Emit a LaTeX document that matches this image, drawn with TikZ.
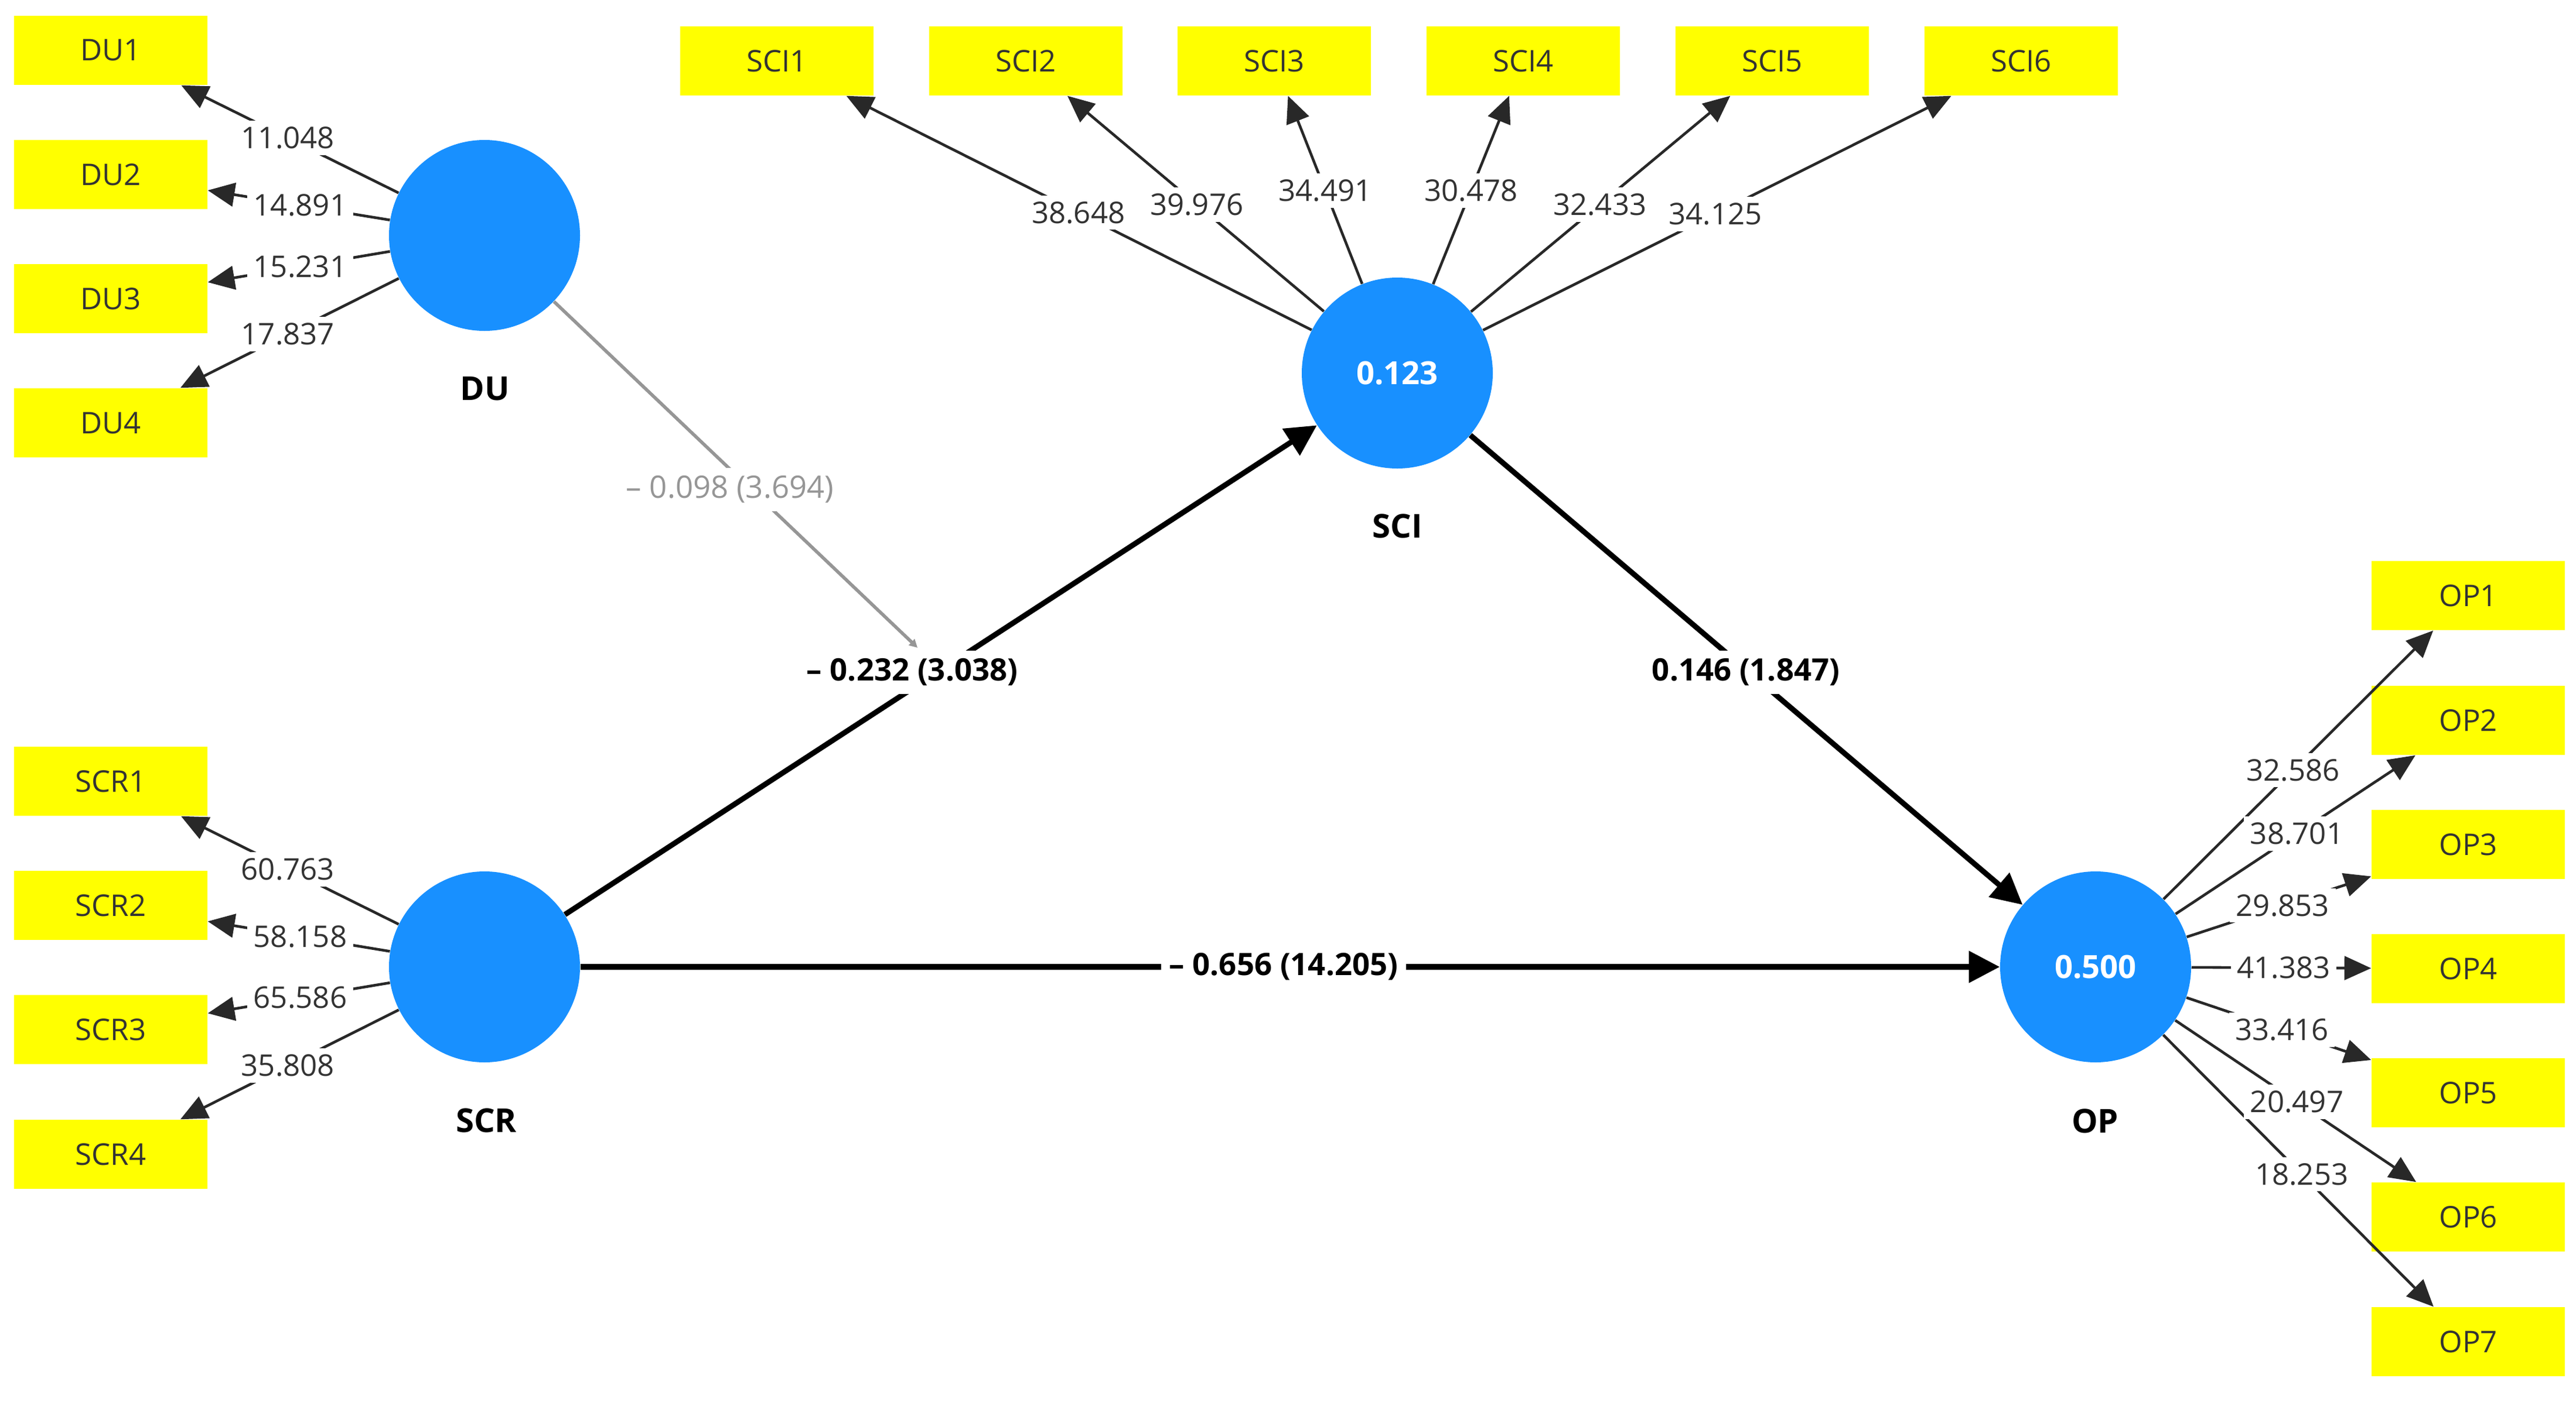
\documentclass[tikz,border=0pt]{standalone}
\usepackage{fontspec}
\setmainfont{Open Sans}
\usetikzlibrary{arrows.meta,calc}
\definecolor{plsblue}{RGB}{24,144,255}
\definecolor{plsyellow}{RGB}{255,255,0}
\definecolor{loadline}{RGB}{40,40,40}
\definecolor{modgray}{RGB}{150,150,150}
\begin{document}
\begin{tikzpicture}[
  indic/.style={rectangle, fill=plsyellow, minimum width=3.3cm, minimum height=1.18cm, inner sep=0pt, text=black!80, font=\fontsize{14.5}{16}\selectfont},
  latent/.style={circle, fill=plsblue, minimum size=3.26cm, inner sep=0pt, text=white, font=\fontsize{15.5}{18}\selectfont\bfseries},
  lvname/.style={font=\fontsize{16}{18}\selectfont\bfseries, text=black},
  loading/.style={draw=loadline, line width=1.3pt, -{Triangle[length=13pt,width=11.5pt]}},
  pathcoef/.style={draw=black, line width=2.6pt, -{Triangle[length=15pt,width=15pt]}},
  lval/.style={fill=white, inner sep=3pt, text=black!80, font=\fontsize{14.5}{16}\selectfont},
  pval/.style={fill=white, inner sep=4pt, text=black, font=\fontsize{15}{18}\selectfont\bfseries},
  modline/.style={draw=modgray, line width=1.6pt, -{Triangle[length=4pt,width=4pt]}},
  modval/.style={fill=white, inner sep=4pt, text=modgray, font=\fontsize{15}{18}\selectfont}
]
\useasboundingbox (0,0) rectangle (43.97,-23.93);

% latent variables
\node[latent] (DU)  at (8.27,-4.02) {};
\node[latent] (SCR) at (8.27,-16.51) {};
\node[latent] (SCI) at (23.85,-6.37) {0.123};
\node[latent] (OP)  at (35.77,-16.51) {0.500};

\node[lvname] (DUn)  at (8.28,-6.64) {DU};
\node[lvname] (SCRn) at (8.30,-19.13) {SCR};
\node[lvname] (SCIn) at (23.85,-8.98) {SCI};
\node[lvname] (OPn)  at (35.76,-19.14) {OP};

% indicators
\foreach \i/\y in {1/-0.86,2/-2.98,3/-5.10,4/-7.22}
  \node[indic] (DU\i) at (1.89,\y) {DU\i};
\foreach \i/\y in {1/-13.34,2/-15.46,3/-17.58,4/-19.71}
  \node[indic] (SCR\i) at (1.89,\y) {SCR\i};
\foreach \i/\x in {1/13.26,2/17.51,3/21.75,4/26.00,5/30.25,6/34.50}
  \node[indic] (SCI\i) at (\x,-1.04) {SCI\i};
\foreach \i/\y in {1/-10.17,2/-12.30,3/-14.42,4/-16.54,5/-18.66,6/-20.78,7/-22.91}
  \node[indic] (OP\i) at (42.13,\y) {OP\i};

% loading arrows
\foreach \i in {1,...,4} \draw[loading] (DU) -- (DU\i);
\foreach \i in {1,...,4} \draw[loading] (SCR) -- (SCR\i);
\foreach \i in {1,...,6} \draw[loading] (SCI) -- (SCI\i);
\foreach \i in {1,...,7} \draw[loading] (OP) -- (OP\i);

% structural paths
\draw[pathcoef] (SCR) -- (SCI);
\draw[pathcoef] (SCI) -- (OP);
\draw[pathcoef] (SCR) -- (OP);

% moderation
\coordinate (mod) at ($(SCR)!0.5!(SCI)$);
\draw[modline, shorten >=0.55cm] (DU) -- (mod);

% loading values
\node[lval] at ($(DU)!0.526!(DU1)$) {11.048};
\node[lval] at ($(DU)!0.493!(DU2)$) {14.891};
\node[lval] at ($(DU)!0.493!(DU3)$) {15.231};
\node[lval] at ($(DU)!0.526!(DU4)$) {17.837};

\node[lval] at ($(SCR)!0.526!(SCR1)$) {60.763};
\node[lval] at ($(SCR)!0.493!(SCR2)$) {58.158};
\node[lval] at ($(SCR)!0.493!(SCR3)$) {65.586};
\node[lval] at ($(SCR)!0.526!(SCR4)$) {35.808};

\node[lval] at ($(SCI)!0.514!(SCI1)$) {38.648};
\node[lval] at ($(SCI)!0.54!(SCI2)$) {39.976};
\node[lval] at ($(SCI)!0.585!(SCI3)$) {34.491};
\node[lval] at ($(SCI)!0.585!(SCI4)$) {30.478};
\node[lval] at ($(SCI)!0.54!(SCI5)$) {32.433};
\node[lval] at ($(SCI)!0.51!(SCI6)$) {34.125};

\node[lval] at ($(OP)!0.53!(OP1)$) {32.586};
\node[lval] at ($(OP)!0.54!(OP2)$) {38.701};
\node[lval] at ($(OP)!0.502!(OP3)$) {29.853};
\node[lval] at ($(OP)!0.505!(OP4)$) {41.383};
\node[lval] at ($(OP)!0.50!(OP5)$) {33.416};
\node[lval] at ($(OP)!0.54!(OP6)$) {20.497};
\node[lval] at ($(OP)!0.553!(OP7)$) {18.253};

% path coefficients
\node[pval] (c1) at (15.57,-11.48) {– 0.232 (3.038)};
\node[pval] (c2) at (29.80,-11.48) {0.146 (1.847)};
\node[pval] (c3) at ($(SCR)!0.496!(OP)$) {– 0.656 (14.205)};
\node[modval] (c4) at (12.46,-8.36) {– 0.098 (3.694)};
\end{tikzpicture}
\end{document}
